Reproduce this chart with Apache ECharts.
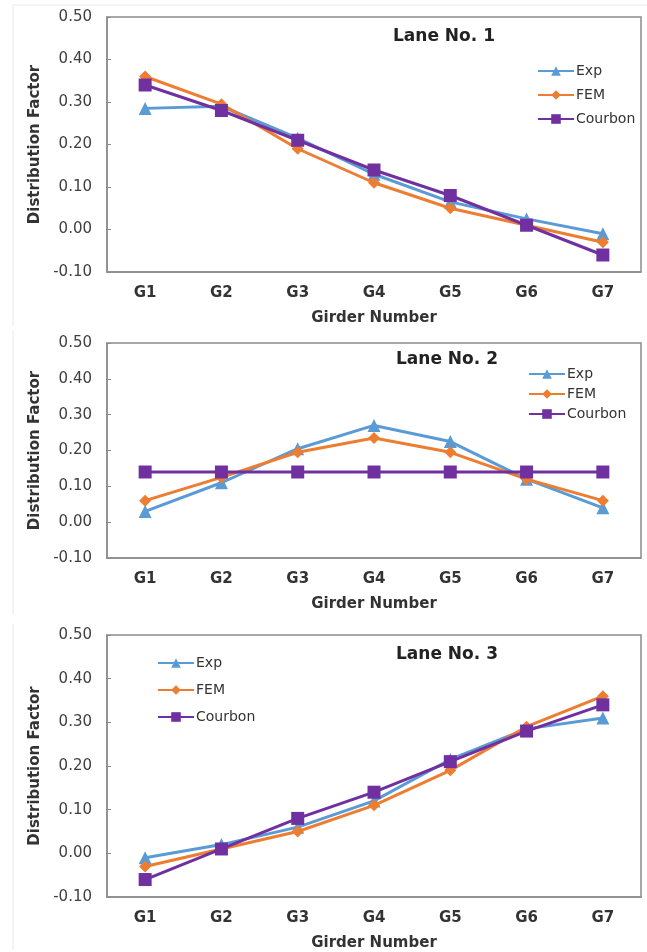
<!DOCTYPE html>
<html>
<head>
<meta charset="utf-8">
<script src="https://cdn.jsdelivr.net/npm/echarts@6/dist/echarts.min.js"></script>
<style>
  html, body { margin: 0; padding: 0; background: #fff; }
  #chart { width: 647px; height: 952px; }
</style>
</head>
<body>
<div id="chart"></div>
<script>
// 数据
const categories = ['G1', 'G2', 'G3', 'G4', 'G5', 'G6', 'G7']
const seriesNames = ['Exp', 'FEM', 'Courbon']
const laneTitles = ['Lane No. 1', 'Lane No. 2', 'Lane No. 3']

const lane1Exp = [0.285, 0.29, 0.215, 0.13, 0.065, 0.025, -0.01]
const lane1Fem = [0.36, 0.295, 0.19, 0.11, 0.05, 0.01, -0.03]
const lane1Courbon = [0.34, 0.28, 0.21, 0.14, 0.08, 0.01, -0.06]

const lane2Exp = [0.03, 0.11, 0.205, 0.27, 0.225, 0.12, 0.04]
const lane2Fem = [0.06, 0.125, 0.195, 0.235, 0.195, 0.12, 0.06]
const lane2Courbon = [0.14, 0.14, 0.14, 0.14, 0.14, 0.14, 0.14]

const lane3Exp = [-0.01, 0.02, 0.06, 0.12, 0.215, 0.285, 0.31]
const lane3Fem = [-0.03, 0.01, 0.05, 0.11, 0.19, 0.29, 0.36]
const lane3Courbon = [-0.06, 0.01, 0.08, 0.14, 0.21, 0.28, 0.34]

const yMin = -0.1
const yMax = 0.5
const yStep = 0.1

const laneData = [
  [lane1Exp, lane1Fem, lane1Courbon],
  [lane2Exp, lane2Fem, lane2Courbon],
  [lane3Exp, lane3Fem, lane3Courbon],
]

// 样式
const colors = ['#5B9BD5', '#ED7D31', '#7030A0']
const symbols = ['triangle', 'diamond', 'rect']
const symbolSizes = [13, 12, 13]
const fontFamily = 'DejaVu Sans'

// 每个面板的布局
const panels = [
  { top: 17, height: 255, title: { left: 393, top: 28 }, legend: { left: 537, top: 64, gap: 10 } },
  { top: 343, height: 215, title: { left: 396, top: 351 }, legend: { left: 528, top: 367, gap: 6 } },
  { top: 635, height: 262, title: { left: 396, top: 646 }, legend: { left: 157, top: 656, gap: 13 } },
]

const chart = echarts.init(document.getElementById('chart'), null, { renderer: 'canvas' })

const grid = []
const xAxis = []
const yAxis = []
const series = []
const legend = []
const title = []

panels.forEach((p, i) => {
  grid.push({
    left: 107,
    right: 6,
    top: p.top,
    height: p.height,
    show: true,
    borderColor: '#8c8c8c',
    borderWidth: 1.5,
    backgroundColor: 'transparent',
    outerBoundsMode: 'none',
  })
  xAxis.push({
    type: 'category',
    gridIndex: i,
    data: categories,
    boundaryGap: true,
    axisLine: { show: true, onZero: false, lineStyle: { color: '#8c8c8c', width: 1.5 } },
    axisTick: { show: false },
    axisLabel: {
      color: '#333',
      fontFamily,
      fontWeight: 'bold',
      fontSize: 15,
      margin: 14,
    },
    splitLine: { show: false },
    name: 'Girder Number',
    nameLocation: 'middle',
    nameGap: 39,
    nameTextStyle: { color: '#333', fontFamily, fontWeight: 'bold', fontSize: 15 },
  })
  yAxis.push({
    type: 'value',
    gridIndex: i,
    min: yMin,
    max: yMax,
    interval: yStep,
    axisLine: { show: true, lineStyle: { color: '#8c8c8c', width: 1.5 } },
    axisTick: { show: true, inside: true, length: 4, lineStyle: { color: '#8c8c8c' } },
    axisLabel: {
      color: '#404040',
      fontFamily,
      fontSize: 15,
      margin: 15,
      formatter: (v) => v.toFixed(2),
    },
    splitLine: { show: false },
    name: 'Distribution Factor',
    nameLocation: 'middle',
    nameGap: 60,
    nameTextStyle: { color: '#333', fontFamily, fontWeight: 'bold', fontSize: 15 },
  })
  title.push({
    text: laneTitles[i],
    left: p.title.left,
    top: p.title.top,
    padding: 0,
    textStyle: { color: '#222', fontFamily, fontWeight: 'bold', fontSize: 17 },
  })
  legend.push({
    orient: 'vertical',
    left: p.legend.left,
    top: p.legend.top,
    padding: 0,
    itemGap: p.legend.gap,
    itemWidth: 36,
    itemHeight: 12,
    data: seriesNames.map((n) => ({ name: n + ' ' + (i + 1) })),
    formatter: (name) => name.split(' ')[0],
    textStyle: { color: '#333', fontFamily, fontSize: 14, padding: [0, 0, 0, -3] },
    selectedMode: false,
  })
  laneData[i].forEach((vals, k) => {
    series.push({
      name: seriesNames[k] + ' ' + (i + 1),
      type: 'line',
      xAxisIndex: i,
      yAxisIndex: i,
      data: vals,
      symbol: symbols[k],
      symbolSize: symbolSizes[k],
      color: colors[k],
      lineStyle: { color: colors[k], width: 3 },
      itemStyle: { color: colors[k] },
      z: 2 + k,
      animation: false,
    })
  })
})

chart.setOption({
  animation: false,
  grid,
  xAxis,
  yAxis,
  title,
  legend,
  series,
  graphic: [
    // 原图每个面板的浅灰边框
    { type: 'line', shape: { x1: 13, y1: 5, x2: 647, y2: 5 }, style: { stroke: '#e8e8e8', lineWidth: 1 } },
    { type: 'line', shape: { x1: 13, y1: 5, x2: 13, y2: 326 }, style: { stroke: '#e8e8e8', lineWidth: 1 } },
    { type: 'line', shape: { x1: 13, y1: 331, x2: 13, y2: 615 }, style: { stroke: '#e8e8e8', lineWidth: 1 } },
    { type: 'line', shape: { x1: 13, y1: 624, x2: 13, y2: 950 }, style: { stroke: '#e8e8e8', lineWidth: 1 } },
  ],
})
</script>
</body>
</html>
